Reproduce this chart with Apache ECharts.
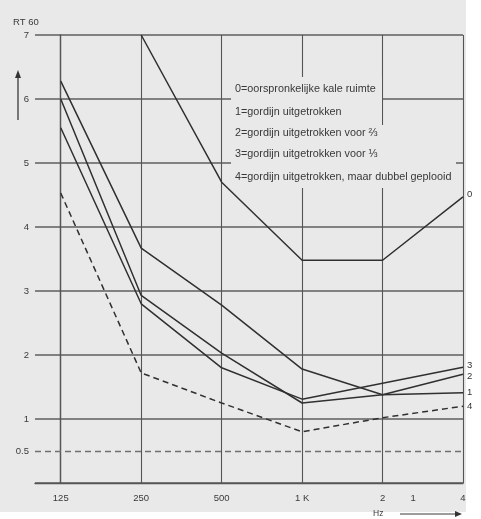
<!DOCTYPE html>
<html>
<head>
<meta charset="utf-8">
<script src="https://cdn.jsdelivr.net/npm/echarts@6/dist/echarts.min.js"></script>
<style>
html,body{margin:0;padding:0;background:#ffffff;}
#chart{width:481px;height:519px;}
</style>
</head>
<body>
<div id="chart"></div>
<script>
// octave positions: 125, 250, 500, 1K, 2K, 4K
var freqPos = [0, 1, 2, 3, 4, 5];
var xTickPos = [0, 1, 2, 3, 4, 4.38, 5];
var xTickLabels = ['125', '250', '500', '1 K', '2', '1', '4'];
var yTickLabels = { '0.5': '0.5', '1': '1', '2': '2', '3': '3', '4': '4', '5': '5', '6': '6', '7': '7' };

var curveNames = ['0', '1', '2', '3', '4'];
var curve0 = [null, 7.0, 4.70, 3.48, 3.48, 4.47];
var curve1 = [6.28, 3.67, 2.78, 1.78, 1.38, 1.41];
var curve2 = [6.00, 2.93, 2.03, 1.25, 1.38, 1.70];
var curve3 = [5.55, 2.80, 1.80, 1.31, 1.56, 1.81];
var curve4 = [4.53, 1.72, 1.25, 0.80, 1.02, 1.20];

var legendLines = [
  '0=oorspronkelijke kale ruimte',
  '1=gordijn uitgetrokken',
  '2=gordijn uitgetrokken voor \u2154',
  '3=gordijn uitgetrokken voor \u2153',
  '4=gordijn uitgetrokken, maar dubbel geplooid'
];

var LINE = '#303030';
var GRID = '#555555';
var PAPER = '#e9e9e9';
var FONT = '"Liberation Sans", Arial, sans-serif';

function pairs(vals) {
  var out = [];
  for (var i = 0; i < vals.length; i++) {
    if (vals[i] !== null) out.push([freqPos[i], vals[i]]);
  }
  return out;
}

var allCurves = [curve0, curve1, curve2, curve3, curve4];
var endOffsets = [[0, -3], [0, 0], [0, 2], [0, -2], [0, 0]];
var series = allCurves.map(function (c, i) {
  return {
    name: curveNames[i],
    type: 'line',
    data: pairs(c),
    symbol: 'none',
    silent: true,
    z: 5,
    lineStyle: { color: LINE, width: 1.5, type: i === 4 ? [6, 4] : 'solid' },
    endLabel: {
      show: true, formatter: curveNames[i], color: '#333', fontSize: 9.5,
      fontFamily: FONT, distance: 4, offset: endOffsets[i]
    }
  };
});

var vLines = freqPos.map(function (p) { return { xAxis: p }; });
vLines.push({ yAxis: 0.5, lineStyle: { type: [6, 4], color: '#707070', width: 1.4 } });
series[0].markLine = {
  silent: true, symbol: ['none', 'none'], animation: false,
  label: { show: false },
  lineStyle: { color: GRID, width: 1.1, type: 'solid' },
  data: vLines
};

var graphics = [
  { type: 'rect', left: 0, top: 0, z: -10, shape: { x: 8, y: 7, width: 466, height: 512 }, style: { fill: PAPER } },
  { type: 'rect', z: 20, shape: { x: 231, y: 77, width: 151, height: 111 }, style: { fill: PAPER } },
  { type: 'rect', z: 20, shape: { x: 382, y: 125, width: 74, height: 63 }, style: { fill: PAPER } },
  { type: 'text', z: 30, x: 13, y: 17, style: { text: 'RT 60', font: '9.5px ' + FONT, fill: '#3a3a3a' } },
  { type: 'line', z: 30, shape: { x1: 18, y1: 120, x2: 18, y2: 76 }, style: { stroke: '#3a3a3a', lineWidth: 1.3 } },
  { type: 'polygon', z: 30, shape: { points: [[18, 70], [15, 78], [21, 78]] }, style: { fill: '#333' } },
  { type: 'text', z: 30, x: 373, y: 509, style: { text: 'Hz', font: '8.5px ' + FONT, fill: '#3a3a3a' } },
  { type: 'line', z: 30, shape: { x1: 400, y1: 514, x2: 456, y2: 514 }, style: { stroke: '#3a3a3a', lineWidth: 1.2 } },
  { type: 'polygon', z: 30, shape: { points: [[462, 514], [455, 511], [455, 517]] }, style: { fill: '#333' } }
];
var rowY = [89, 112, 133, 154, 177];
legendLines.forEach(function (t, i) {
  graphics.push({
    type: 'text', z: 30, x: 235, y: rowY[i],
    style: { text: t, font: '10.8px ' + FONT, fill: '#383838', textVerticalAlign: 'middle' }
  });
});

var chart = echarts.init(document.getElementById('chart'), null, { renderer: 'canvas' });
chart.setOption({
  backgroundColor: '#ffffff',
  animation: false,
  grid: { left: 35, right: 18, top: 35, bottom: 36, containLabel: false },
  xAxis: {
    type: 'value', min: -0.32, max: 5,
    axisLine: { show: true, lineStyle: { color: GRID, width: 1.4 } },
    axisTick: { show: false },
    splitLine: { show: false },
    axisLabel: {
      customValues: xTickPos,
      formatter: function (v) {
        for (var i = 0; i < xTickPos.length; i++) if (Math.abs(xTickPos[i] - v) < 1e-6) return xTickLabels[i];
        return '';
      },
      color: '#3a3a3a', fontSize: 9.5, fontFamily: FONT, margin: 10
    }
  },
  yAxis: {
    type: 'value', min: 0, max: 7, interval: 0.5,
    axisLine: { show: true, lineStyle: { color: GRID, width: 1.4 } },
    axisTick: { show: false },
    splitLine: { show: true, lineStyle: { color: ['#5e5e5e', 'rgba(0,0,0,0)'], width: 1.6 } },
    axisLabel: {
      formatter: function (v) {
        var k = String(v);
        return yTickLabels[k] !== undefined ? yTickLabels[k] : '';
      },
      color: '#3a3a3a', fontSize: 9.5, fontFamily: FONT, margin: 6
    }
  },
  series: series,
  graphic: graphics
});
</script>
</body>
</html>
